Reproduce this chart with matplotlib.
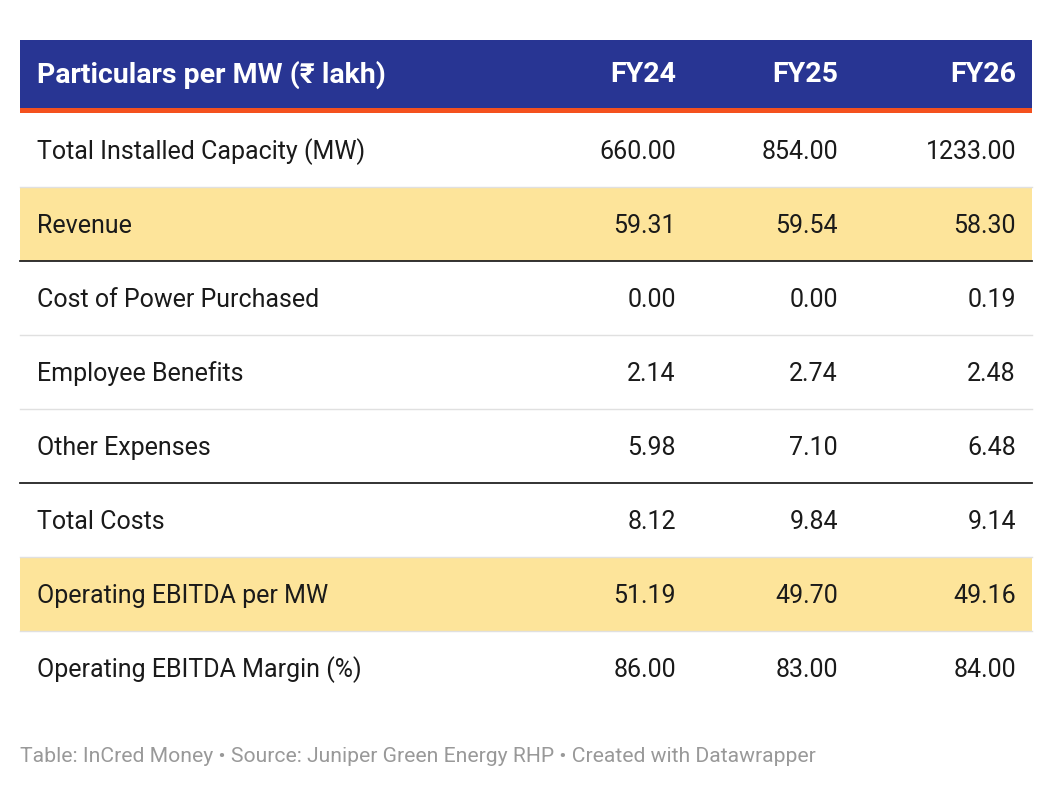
import matplotlib
matplotlib.use("Agg")
import matplotlib.pyplot as plt
from matplotlib.patches import Rectangle

header = ["Particulars per MW (₹ lakh)", "FY24", "FY25", "FY26"]
particulars = ["Total Installed Capacity (MW)", "Revenue", "Cost of Power Purchased",
               "Employee Benefits", "Other Expenses", "Total Costs",
               "Operating EBITDA per MW", "Operating EBITDA Margin (%)"]
fy24 = ["660.00", "59.31", "0.00", "2.14", "5.98", "8.12", "51.19", "86.00"]
fy25 = ["854.00", "59.54", "0.00", "2.74", "7.10", "9.84", "49.70", "83.00"]
fy26 = ["1233.00", "58.30", "0.19", "2.48", "6.48", "9.14", "49.16", "84.00"]
highlight = [1, 6]
dark_line_above = [2, 5]

W, H = 1052, 790
fig = plt.figure(figsize=(W / 100, H / 100), dpi=100)
ax = fig.add_axes([0, 0, 1, 1])
ax.set_xlim(0, W)
ax.set_ylim(H, 0)
ax.axis("off")
fam = ["Roboto", "DejaVu Sans"]

left, right = 20, 1032
col_x = [37, 676, 838, 1016]
ax.add_patch(Rectangle((left, 40), right - left, 68, color="#283593", lw=0))
ax.add_patch(Rectangle((left, 108), right - left, 5, color="#f4511e", lw=0))
for i, h in enumerate(header):
    ax.text(col_x[i], 75, h, ha="left" if i == 0 else "right", va="center",
            color="white", fontsize=20.5, fontweight="bold", family=fam)

top, rh = 113, 74
for r, name in enumerate(particulars):
    y0 = top + r * rh
    if r in highlight:
        ax.add_patch(Rectangle((left, y0), right - left, rh, color="#fde49a", lw=0))
    if r > 0:
        dark = r in dark_line_above
        ax.plot([left, right], [y0, y0], color="#222222" if dark else "#e0e0e0",
                lw=1.3 if dark else 1)
    yc = y0 + rh / 2 + 2
    ax.text(col_x[0], yc, name, ha="left", va="center", fontsize=18,
            color="#1a1a1a", family=fam)
    for x, vals in zip(col_x[1:], (fy24, fy25, fy26)):
        ax.text(x, yc, vals[r], ha="right", va="center", fontsize=18,
                color="#1a1a1a", family=fam)

ax.text(20, 757, "Table: InCred Money • Source: Juniper Green Energy RHP • Created with Datawrapper",
        ha="left", va="center", fontsize=15.2, color="#999999", family=fam)

fig.savefig("out.png", dpi=100, facecolor="white")
